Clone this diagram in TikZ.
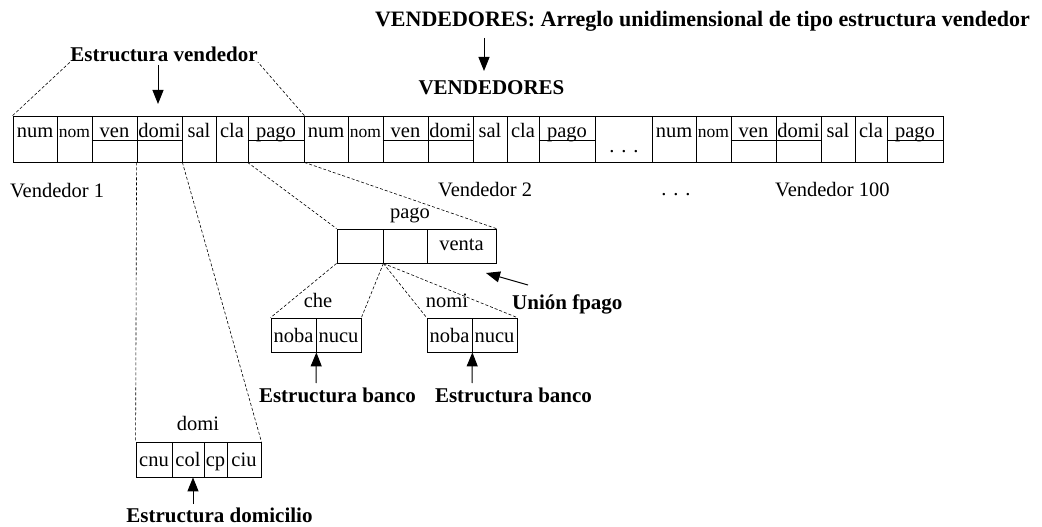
\documentclass[tikz,border=0pt]{standalone}
\usepackage{fontspec}
\setmainfont{Liberation Serif}
\usetikzlibrary{arrows.meta}
\tikzset{
  cell/.style={draw, line width=0.8pt, inner sep=0pt, minimum height=46pt},
  bcell/.style={draw, line width=0.8pt, inner sep=0pt, minimum height=34pt},
  txt/.style={anchor=base, inner sep=0pt, font=\fontsize{20.5}{24}\selectfont},
  smalltxt/.style={anchor=base, inner sep=0pt, font=\fontsize{17.5}{20}\selectfont},
  btxt/.style={anchor=base, inner sep=0pt, font=\fontsize{21}{25}\selectfont\bfseries},
  dline/.style={dash pattern=on 3pt off 2pt, line width=0.6pt},
  arr/.style={line width=1pt, -{Triangle[length=14pt,width=11pt]}},
  uline/.style={line width=0.8pt},
}
\newcommand\vrec[2]{%
  \foreach \n/\c/\w in {num/22/44,nom/61.5/35,ven/101.5/45,domi/146.5/45,sal/186/34,cla/219/32,pago/263/56}{%
    \node[cell, minimum width=\w pt] (#1\n) at (#2+\c,139) {};
  }%
  \foreach \n/\c in {num/22,ven/101.5,domi/146.5,sal/186,cla/219,pago/263}{%
    \node[txt] (#1\n t) at (#2+\c,137) {\n};
  }%
  \node[smalltxt] (#1nomt) at (#2+61.5,137) {nom};
  \draw[uline] (#1ven.west |- ul) -- (#1domi.east |- ul);
  \draw[uline] (#1pago.west |- ul) -- (#1pago.east |- ul);
}
\begin{document}
\begin{tikzpicture}[x=1pt, y=-1pt]
\useasboundingbox (0,0) rectangle (1042,527);
\coordinate (ul) at (0,140);

% title
\node[anchor=base east, inner sep=0pt, font=\fontsize{22}{26}\selectfont\bfseries] (title) at (1030,27) {VENDEDORES: Arreglo unidimensional de tipo estructura vendedor};
\coordinate (ta1) at (484,38);
\coordinate (ta2) at (484,71);
\draw[arr] (ta1) -- (ta2);
\node[btxt] (vend) at (491.5,95) {VENDEDORES};

% estructura vendedor
\node[btxt] (ev) at (164,62) {Estructura vendedor};
\coordinate (ea1) at (158,65);
\coordinate (ea2) at (158,104);
\draw[arr] (ea1) -- (ea2);

% array
\vrec{a}{13}
\node[cell, minimum width=57pt] (dots) at (623.5,139) {};
\node[txt] (dotst) at (624,152) {. . .};
\vrec{b}{304}
\vrec{c}{652}

\draw[dline] (anum.north west) -- (ev.base west);
\draw[dline] (apago.north east) -- (ev.base east);

% vendedor labels
\node[txt, anchor=base west] (v1) at (10,197) {Vendedor 1};
\node[txt, anchor=base west] (v2) at (438,196) {Vendedor 2};
\node[txt] (vd) at (676,195) {. . .};
\node[txt, anchor=base west] (v100) at (775,196) {Vendedor 100};

% pago union
\node[bcell, minimum width=46pt] (pb1) at (360,246) {};
\node[bcell, minimum width=44pt] (pb2) at (405,246) {};
\node[bcell, minimum width=69pt] (pb3) at (461.5,246) {};
\node[txt] (ventat) at (461.5,250) {venta};
\node[txt] (pagol) at (410,218) {pago};
\draw[dline] (apago.south west) -- (pb1.north west);
\draw[dline] (apago.south east) -- (pb3.north east);

% che
\node[bcell, minimum width=45pt] (ch1) at (293.5,335) {};
\node[bcell, minimum width=45pt] (ch2) at (338.5,335) {};
\node[txt] (ch1t) at (293.5,342) {noba};
\node[txt] (ch2t) at (338.5,342) {nucu};
\node[txt] (chel) at (318,307) {che};
% nomi
\node[bcell, minimum width=45pt] (nm1) at (449.5,335) {};
\node[bcell, minimum width=45pt] (nm2) at (494.5,335) {};
\node[txt] (nm1t) at (449.5,342) {noba};
\node[txt] (nm2t) at (494.5,342) {nucu};
\node[txt] (nomil) at (447,307) {nomi};

\draw[dline] (pb1.south west) -- (ch1.north west);
\draw[dline] (pb1.south east) -- (ch2.north east);
\draw[dline] (pb1.south east) -- (nm1.north west);
\draw[dline] (pb1.south east) -- (nm2.north east);

% union fpago
\node[btxt, anchor=base west] (uf) at (512,309) {Unión fpago};
\coordinate (u1) at (528,285);
\coordinate (u2) at (486,273);
\draw[arr] (u1) -- (u2);

% estructura banco
\coordinate (ab1) at (316,383);
\coordinate (ab2) at (472,383);
\draw[arr] (ab1) -- (ch1.south east);
\draw[arr] (ab2) -- (nm1.south east);
\node[btxt] (eb1) at (337.5,402) {Estructura banco};
\node[btxt] (eb2) at (513.5,402) {Estructura banco};

% domi
\node[bcell, minimum width=36pt, minimum height=35pt] (d1) at (154,459.5) {};
\node[bcell, minimum width=32pt, minimum height=35pt] (d2) at (188,459.5) {};
\node[bcell, minimum width=23pt, minimum height=35pt] (d3) at (215.5,459.5) {};
\node[bcell, minimum width=34pt, minimum height=35pt] (d4) at (244,459.5) {};
\node[txt] (d1t) at (154,466) {cnu};
\node[txt] (d2t) at (188,466) {col};
\node[txt] (d3t) at (215.5,466) {cp};
\node[txt] (d4t) at (244,466) {ciu};
\node[txt] (domil) at (198,430) {domi};
\draw[dline] (adomi.south west) -- (d1.north west);
\draw[dline] (adomi.south east) -- (d4.north east);

\coordinate (ad) at (193,504);
\draw[arr] (ad) -- (ad |- d2.south);
\node[btxt] (edom) at (219.5,522) {Estructura domicilio};
\end{tikzpicture}
\end{document}
